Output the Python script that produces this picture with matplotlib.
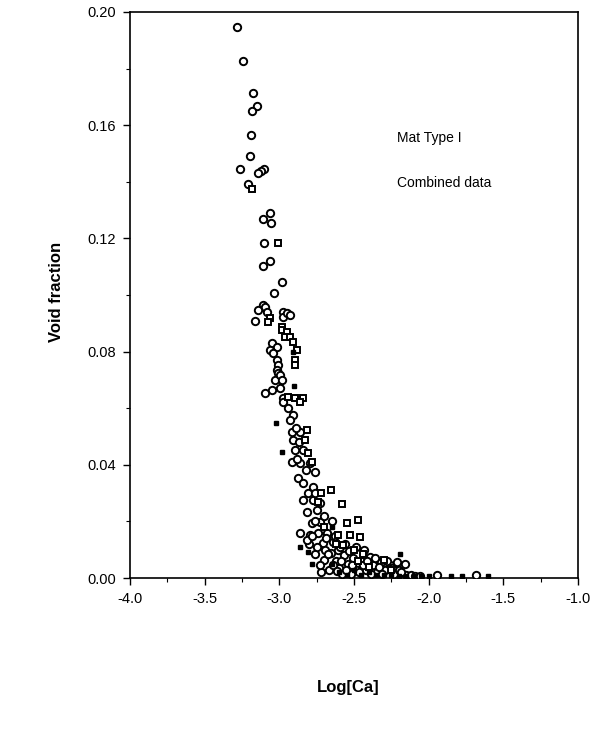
import matplotlib
matplotlib.use('Agg')
import matplotlib.pyplot as plt
from matplotlib.ticker import MultipleLocator, FormatStrFormatter

plt.rcParams['font.family'] = ['Liberation Sans', 'DejaVu Sans']

# open circles
circle_x = [-3.283, -3.243, -3.176, -3.149, -3.183, -3.190, -3.196, -3.263, -3.102, -3.123,
            -3.143, -3.210, -3.062, -3.109, -3.056, -3.102, -3.062, -3.109, -2.982, -3.035,
            -3.109, -3.143, -3.163, -3.096, -3.082, -2.975, -2.975, -2.948, -2.928, -3.049,
            -3.015, -3.062, -3.042, -3.015, -3.009, -3.015, -3.009, -3.029, -2.995, -2.982,
            -2.995, -3.096, -3.049, -2.975, -2.975, -2.908, -2.915, -2.861, -2.908, -2.895,
            -2.841, -2.915, -2.861, -2.794, -2.761, -2.875, -2.841, -2.774, -2.841, -2.774,
            -2.727, -2.814, -2.747, -2.781, -2.727, -2.861, -2.794, -2.741, -2.707, -2.640,
            -2.694, -2.760, -2.700, -2.655, -2.620, -2.600, -2.565, -2.540, -2.505, -2.480,
            -2.450, -2.420, -2.395, -2.370, -2.345, -2.320, -2.290, -2.260, -2.230, -2.200,
            -2.160, -2.150, -1.944, -1.683, -2.670, -2.720, -2.580, -2.520, -2.800, -2.680,
            -2.945, -2.930, -2.890, -2.870, -2.880, -2.820, -2.810, -2.760, -2.700, -2.650,
            -2.610, -2.560, -2.814,
            -2.745, -2.725, -2.690, -2.675, -2.640, -2.630, -2.615, -2.595, -2.585, -2.555,
            -2.535, -2.515, -2.490, -2.465, -2.440, -2.430, -2.410, -2.385, -2.360, -2.335,
            -2.310, -2.280, -2.245, -2.215, -2.185, -2.120, -2.090, -2.060, -2.780, -2.760]
circle_y = [0.1947, 0.1827, 0.1714, 0.1668, 0.1650, 0.1566, 0.1491, 0.1445, 0.1445, 0.1438,
            0.1431, 0.1392, 0.1290, 0.1269, 0.1255, 0.1184, 0.1120, 0.1103, 0.1046, 0.1007,
            0.0965, 0.0947, 0.0908, 0.0958, 0.0940, 0.0940, 0.0922, 0.0937, 0.0929, 0.0830,
            0.0816, 0.0806, 0.0795, 0.0770, 0.0753, 0.0735, 0.0724, 0.0700, 0.0717, 0.0700,
            0.0671, 0.0654, 0.0664, 0.0636, 0.0622, 0.0576, 0.0516, 0.0516, 0.0488, 0.0452,
            0.0452, 0.0410, 0.0406, 0.0406, 0.0375, 0.0353, 0.0336, 0.0322, 0.0276, 0.0276,
            0.0265, 0.0233, 0.0240, 0.0194, 0.0198, 0.0159, 0.0152, 0.0159, 0.0124, 0.0127,
            0.0100, 0.0085, 0.0065, 0.0090, 0.0060, 0.0035, 0.0080, 0.0050, 0.0070, 0.0030,
            0.0060, 0.0030, 0.0075, 0.0045, 0.0020, 0.0055, 0.0030, 0.0045, 0.0015, 0.0030,
            0.0049, 0.0010, 0.0011, 0.0011, 0.0030, 0.0020, 0.0015, 0.0015, 0.0120, 0.0160,
            0.0600, 0.0560, 0.0530, 0.0480, 0.0420, 0.0380, 0.0300, 0.0300, 0.0220, 0.0200,
            0.0100, 0.0120, 0.0134,
            0.0110, 0.0045, 0.0140, 0.0085, 0.0045, 0.0150, 0.0025, 0.0110, 0.0060, 0.0030,
            0.0095, 0.0045, 0.0110, 0.0020, 0.0045, 0.0100, 0.0060, 0.0015, 0.0070, 0.0040,
            0.0015, 0.0060, 0.0035, 0.0055, 0.0020, 0.0010, 0.0008, 0.0006, 0.0150, 0.0200]

# open squares
square_x = [-3.183, -3.009, -3.062, -3.076, -2.982, -2.982, -2.948, -2.962, -2.928, -2.908,
            -2.881, -2.895, -2.895, -2.942, -2.895, -2.841, -2.861, -2.814, -2.828, -2.808,
            -2.781, -2.653, -2.580, -2.547, -2.473, -2.607, -2.526, -2.459, -2.573, -2.620,
            -2.500, -2.440, -2.470, -2.400, -2.300, -2.250, -2.700, -2.740, -2.720]
square_y = [0.1375, 0.1184, 0.0919, 0.0905, 0.0887, 0.0876, 0.0869, 0.0852, 0.0852, 0.0834,
            0.0806, 0.0770, 0.0753, 0.0640, 0.0636, 0.0636, 0.0622, 0.0523, 0.0488, 0.0442,
            0.0410, 0.0310, 0.0262, 0.0194, 0.0205, 0.0152, 0.0152, 0.0145, 0.0117, 0.0120,
            0.0100, 0.0085, 0.0060, 0.0040, 0.0065, 0.0030, 0.0180, 0.0270, 0.0300]

# small filled squares
dot_x = [-2.908, -3.022, -2.982, -2.647, -2.808, -2.192, -2.860, -2.780, -2.500, -2.000,
         -1.850, -1.780, -1.600, -2.650, -2.900,
         -2.600, -2.550, -2.450, -2.400, -2.350, -2.300, -2.250, -2.200, -2.150, -2.100,
         -2.050]
dot_y = [0.0799, 0.0548, 0.0445, 0.0180, 0.0092, 0.0085, 0.0110, 0.0050, 0.0030, 0.0007,
         0.0007, 0.0007, 0.0007, 0.0050, 0.0680,
         0.0020, 0.0010, 0.0010, 0.0020, 0.0010, 0.0010, 0.0010, 0.0008, 0.0008, 0.0006,
         0.0006]

fig = plt.figure(figsize=(5.98, 7.31), dpi=100)
ax = fig.add_axes([0.2174, 0.2093, 0.7492, 0.7743])

ax.plot(circle_x, circle_y, 'o', ms=5.3, mfc='white', mec='black', mew=1.4, ls='none', zorder=3)
ax.plot(square_x, square_y, 's', ms=5, mfc='white', mec='black', mew=1.4, ls='none', zorder=3)
ax.plot(dot_x, dot_y, 's', ms=3, mfc='black', mec='black', ls='none', zorder=4)

ax.set_xlim(-4.0, -1.0)
ax.set_ylim(0.0, 0.20)
ax.xaxis.set_major_locator(MultipleLocator(0.5))
ax.xaxis.set_minor_locator(MultipleLocator(0.25))
ax.yaxis.set_major_locator(MultipleLocator(0.04))
ax.yaxis.set_minor_locator(MultipleLocator(0.02))
ax.xaxis.set_major_formatter(FormatStrFormatter('%.1f'))
ax.yaxis.set_major_formatter(FormatStrFormatter('%.2f'))

for sp in ax.spines.values():
    sp.set_linewidth(1.2)

ax.tick_params(which='major', direction='out', length=5, width=1.0, labelsize=10.5, pad=5)
ax.tick_params(which='minor', direction='out', length=3, width=0.8)
ax.tick_params(top=False, right=False)

ax.text(-2.212, 0.1555, 'Mat Type I', fontsize=10, va='center', ha='left')
ax.text(-2.212, 0.1396, 'Combined data', fontsize=10, va='center', ha='left')

ax.set_xlabel('Log[Ca]', fontsize=12, fontweight='bold')
ax.set_ylabel('Void fraction', fontsize=12, fontweight='bold')
ax.xaxis.set_label_coords(0.487, -0.18)
ax.yaxis.set_label_coords(-0.147, 0.505)

fig.savefig('out.png', dpi=100)
